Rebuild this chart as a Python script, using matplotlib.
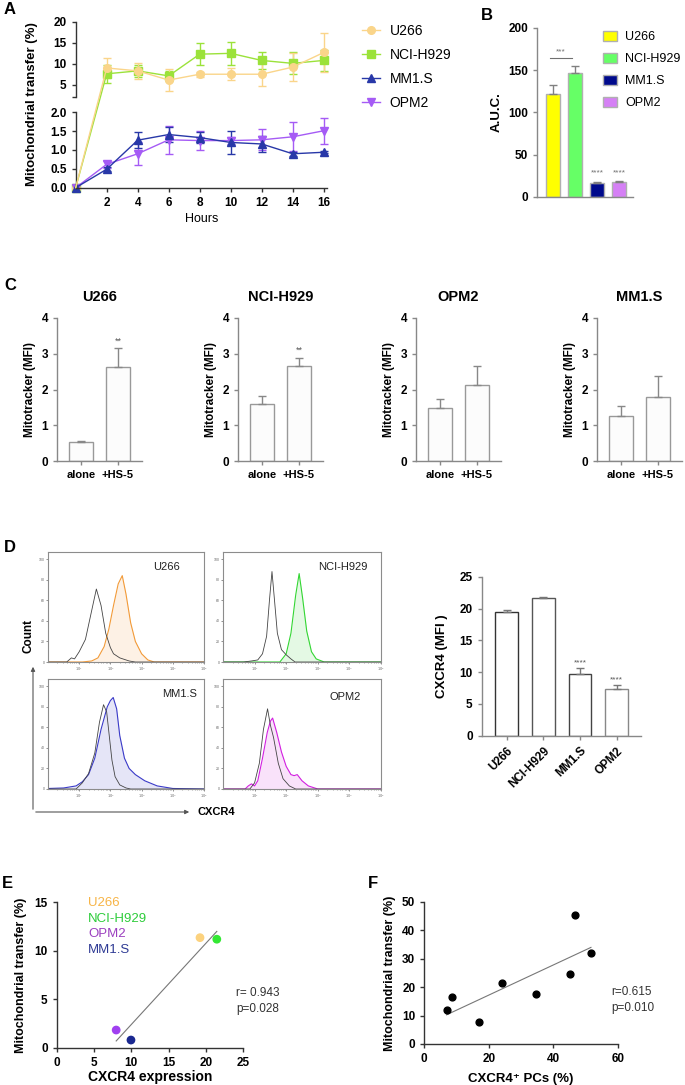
import numpy as np
import matplotlib.pyplot as plt
from matplotlib.patches import ConnectionPatch, FancyArrowPatch, Patch
from matplotlib.lines import Line2D
from matplotlib.ticker import LogLocator, NullFormatter

W, H = 685, 1085
plt.rcParams['font.family'] = ['Liberation Sans', 'DejaVu Sans']

# ---- panel A: mitochondrial transfer over time
hours = [0, 2, 4, 6, 8, 10, 12, 14, 16]
u266_mean = [0, 9.0, 8.3, 6.1, 7.5, 7.5, 7.5, 9.2, 12.7]
u266_err = [0, 2.5, 1.9, 2.7, 0.6, 1.4, 2.7, 3.3, 4.6]
h929_mean = [0, 7.6, 8.3, 7.1, 12.3, 12.5, 10.8, 10.1, 10.8]
h929_err = [0, 2.1, 1.5, 1.2, 2.6, 2.8, 2.1, 2.6, 2.5]
mm1s_mean = [0, 0.49, 1.26, 1.41, 1.33, 1.2, 1.16, 0.9, 0.94]
mm1s_err = [0, 0.05, 0.22, 0.2, 0.15, 0.3, 0.2, 0.05, 0.03]
opm2_mean = [0, 0.62, 0.9, 1.27, 1.25, 1.25, 1.27, 1.35, 1.51]
opm2_err = [0, 0.1, 0.3, 0.37, 0.25, 0.1, 0.28, 0.38, 0.35]

# ---- panel B: AUC
lines = ['U266', 'NCI-H929', 'MM1.S', 'OPM2']
auc = [122, 147, 16, 17]
auc_err = [11, 8.5, 1, 1.5]

# ---- panel C: mitotracker
c_titles = ['U266', 'NCI-H929', 'OPM2', 'MM1.S']
c_groups = ['alone', '+HS-5']
c_vals = [[0.52, 2.62], [1.6, 2.65], [1.47, 2.12], [1.25, 1.8]]
c_errs = [[0.05, 0.53], [0.22, 0.23], [0.26, 0.53], [0.28, 0.58]]
c_stars = ['**', '**', '', '']

# ---- panel D: flow histograms (log10 decade, % of max)
hist_names = ['U266', 'NCI-H929', 'MM1.S', 'OPM2']
ctrl_dec = [[0, 0.6, 0.75, 0.85, 1.0, 1.2, 1.4, 1.55, 1.7, 1.85, 2.0, 2.1, 2.3, 2.6, 2.8, 5],
            [0, 0.65, 0.9, 1.1, 1.25, 1.38, 1.47, 1.55, 1.63, 1.72, 1.85, 2.0, 2.15, 2.28, 5],
            [0, 0.9, 1.1, 1.3, 1.5, 1.65, 1.78, 1.88, 1.97, 2.05, 2.15, 2.3, 2.5, 2.65, 5],
            [0, 0.85, 1.0, 1.15, 1.28, 1.41, 1.5, 1.6, 1.75, 1.9, 2.1, 2.3, 5]]
ctrl_cnt = [[0, 0, 4, 3, 10, 22, 50, 71, 55, 28, 14, 8, 4, 1, 0, 0],
            [0, 0, 1, 2, 8, 25, 60, 88, 60, 28, 12, 7, 3, 0, 0],
            [0, 0, 6, 15, 35, 65, 82, 75, 50, 28, 12, 4, 1, 0, 0],
            [0, 0, 6, 25, 58, 78, 62, 50, 25, 10, 3, 0, 0]]
stain_dec = [[0, 1.1, 1.4, 1.6, 1.8, 1.95, 2.1, 2.25, 2.38, 2.5, 2.65, 2.8, 3.0, 3.2, 3.4, 5],
             [0, 1.8, 2.0, 2.15, 2.3, 2.41, 2.52, 2.65, 2.8, 2.95, 3.2, 5],
             [0, 0.5, 0.9, 1.1, 1.3, 1.5, 1.7, 1.9, 2.0, 2.09, 2.2, 2.3, 2.45, 2.6, 2.8, 3.1, 3.5, 4.0, 5],
             [0, 0.7, 0.8, 0.9, 1.0, 1.1, 1.25, 1.4, 1.5, 1.57, 1.7, 1.85, 2.0, 2.15, 2.25, 2.35, 2.5, 2.7, 3.0, 5]]
stain_cnt = [[0, 0, 1, 4, 15, 32, 55, 76, 84, 66, 38, 20, 8, 2, 0, 0],
             [0, 0, 8, 28, 65, 86, 62, 30, 10, 3, 0, 0],
             [0.5, 1, 3, 7, 14, 30, 58, 80, 86, 89, 78, 52, 30, 20, 14, 8, 3, 0.5, 0],
             [0, 0, 3, 5, 3, 8, 30, 55, 66, 69, 55, 36, 22, 14, 13, 14, 8, 3, 0, 0]]
hist_col = ['#F29A38', '#33D633', '#3A3AC8', '#D21FE0']

cxcr4_mfi = [19.5, 21.7, 9.65, 7.3]
cxcr4_err = [0.3, 0.15, 0.95, 0.7]

# ---- panel E / F: correlations
e_names = ['U266', 'NCI-H929', 'OPM2', 'MM1.S']
e_x = [19.2, 21.45, 7.97, 9.95]
e_y = [11.36, 11.2, 1.85, 0.82]
e_col = ['#FCD27E', '#33E833', '#A040F0', '#1A2890']
e_txtcol = ['#F7B446', '#2DCC3A', '#9B3FBF', '#2E3A94']
f_x = [6.9, 8.5, 17.0, 24.0, 34.7, 45.2, 46.8, 51.7]
f_y = [11.9, 16.4, 7.9, 21.5, 17.5, 24.6, 45.3, 31.9]

fig = plt.figure(figsize=(W / 100, H / 100), dpi=100)


def box(x0, y0, x1, y1):
    return [x0 / W, 1 - y1 / H, (x1 - x0) / W, (y1 - y0) / H]


def ftext(x, y, s, **kw):
    return fig.text(x / W, 1 - y / H, s, **kw)


def prism(ax, col='#333333'):
    for s in ['top', 'right']:
        ax.spines[s].set_visible(False)
    for s in ['left', 'bottom']:
        ax.spines[s].set_color(col)
        ax.spines[s].set_linewidth(1.0)
    ax.tick_params(colors=col, labelcolor='black', labelsize=8.5, width=1, length=3)
    for lab in ax.get_xticklabels() + ax.get_yticklabels():
        lab.set_fontweight('bold')


# ================= A
ax_hi = fig.add_axes(box(75.7, 22, 326.8, 97.2))
ax_lo = fig.add_axes(box(75.7, 112.3, 326.8, 187.7))
ax_hi.set_xlim(0, 16.2)
ax_lo.set_xlim(0, 16.2)
ax_hi.set_ylim(2, 20)
ax_lo.set_ylim(0, 2)

kw = dict(lw=1.0, markersize=5.5, capsize=3, elinewidth=1, capthick=1, clip_on=False)
ax_hi.errorbar(hours[1:], h929_mean[1:], yerr=h929_err[1:], color='#9BE23A', marker='s', **kw)
ax_hi.errorbar(hours[1:], u266_mean[1:], yerr=u266_err[1:], color='#FAD58A', marker='o', **kw)
ax_lo.errorbar(hours, opm2_mean, yerr=opm2_err, color='#A55BF5', marker='v', **kw)
ax_lo.errorbar(hours, mm1s_mean, yerr=mm1s_err, color='#2838A8', marker='^', **kw)
ax_lo.plot(hours[0], h929_mean[0], marker='s', color='#9BE23A', ms=5.5, clip_on=False)
ax_lo.plot(hours[0], u266_mean[0], marker='o', color='#FAD58A', ms=5.5, clip_on=False)
for mean, col in [(h929_mean, '#9BE23A'), (u266_mean, '#FAD58A')]:
    con = ConnectionPatch(xyA=(hours[0], mean[0]), coordsA='data', axesA=ax_lo,
                          xyB=(hours[1], mean[1]), coordsB='data', axesB=ax_hi,
                          color=col, lw=1.0)
    fig.add_artist(con)

ax_hi.set_yticks([2, 5, 10, 15, 20])
ax_hi.set_yticklabels(['', '5', '10', '15', '20'])
ax_hi.set_xticks([])
ax_lo.set_yticks([0, 0.5, 1.0, 1.5, 2.0])
ax_lo.set_yticklabels(['0.0', '0.5', '1.0', '1.5', '2.0'])
ax_lo.set_xticks(hours[1:])
prism(ax_hi)
prism(ax_lo)
ax_hi.spines['bottom'].set_visible(False)
ax_lo.set_xlabel('Hours', fontsize=9, labelpad=3)
ftext(32, 104, 'Mitochondrial transfer (%)', rotation=90, ha='center', va='center',
      fontsize=9.5, fontweight='bold')

a_handles = [Line2D([], [], color='#FAD58A', marker='o', ms=5.5, lw=1),
             Line2D([], [], color='#9BE23A', marker='s', ms=5.5, lw=1),
             Line2D([], [], color='#2838A8', marker='^', ms=5.5, lw=1),
             Line2D([], [], color='#A55BF5', marker='v', ms=5.5, lw=1)]
fig.legend(a_handles, lines, loc='upper left', bbox_to_anchor=(362 / W, 1 - 24 / H),
           frameon=False, fontsize=10, handlelength=1.3, labelspacing=0.72,
           handletextpad=0.7, borderpad=0, borderaxespad=0)

# ================= B
axb = fig.add_axes(box(537, 28, 633, 196.7))
bcols = ['#FFFF00', '#66FF66', '#000A8C', '#D580F5']
xb = np.arange(len(auc))
axb.bar(xb, auc, width=0.68, color=bcols, edgecolor='#B0B0B0', linewidth=1.0)
axb.errorbar(xb, auc, yerr=[[0] * 4, auc_err], fmt='none', ecolor='#808080', capsize=3, elinewidth=1)
axb.set_xlim(-0.727, 3.636)
axb.set_ylim(0, 200)
axb.set_yticks([0, 50, 100, 150, 200])
axb.set_xticks([])
prism(axb, '#888888')
axb.plot([-0.15, 0.85], [164.5, 164.5], color='#707070', lw=0.8)
axb.text(0.35, 167, '***', ha='center', va='bottom', fontsize=6, color='#707070')
for i in (2, 3):
    axb.text(i, 24, '****', ha='center', va='bottom', fontsize=6, color='#707070')
axb.set_ylabel('A.U.C.', fontsize=9.5, fontweight='bold', labelpad=4)
b_handles = [Patch(facecolor=c, edgecolor='#B0B0B0') for c in bcols]
fig.legend(b_handles, lines, loc='upper left', bbox_to_anchor=(603 / W, 1 - 31 / H),
           frameon=False, fontsize=9, handlelength=1.15, handleheight=0.9,
           labelspacing=0.75, handletextpad=0.6, borderpad=0, borderaxespad=0)

# ================= C
c_lefts = [57, 238, 416, 597]
for i, left in enumerate(c_lefts):
    ax = fig.add_axes(box(left, 318, left + 85, 461))
    xc = np.arange(2)
    ax.bar(xc, c_vals[i], width=0.65, color='#FCFCFC', edgecolor='#999999', linewidth=1.0)
    ax.errorbar(xc, c_vals[i], yerr=[[0, 0], c_errs[i]], fmt='none', ecolor='#888888',
                capsize=3, elinewidth=1)
    ax.set_xlim(-0.65, 1.65)
    ax.set_ylim(0, 4)
    ax.set_yticks([0, 1, 2, 3, 4])
    ax.set_xticks(xc)
    ax.set_xticklabels(c_groups)
    prism(ax, '#888888')
    ax.tick_params(axis='x', labelsize=8)
    ax.set_ylabel('Mitotracker (MFI)', fontsize=8.5, fontweight='bold', labelpad=4)
    ax.set_title(c_titles[i], fontsize=10.5, fontweight='bold', pad=12)
    if c_stars[i]:
        top = c_vals[i][1] + c_errs[i][1]
        ax.text(1, top + 0.08, c_stars[i], ha='center', va='bottom', fontsize=6.5, color='#555555')

# ================= D histograms
hist_boxes = [(48, 552, 204, 662), (223, 552, 381, 662), (48, 679, 204, 789), (223, 679, 381, 789)]
hist_lbl = [(167, 567), (343, 567), (180, 694), (345, 697)]
for i, (x0, y0, x1, y1) in enumerate(hist_boxes):
    ax = fig.add_axes(box(x0, y0, x1, y1))
    sx = 10 ** np.array(stain_dec[i])
    cx = 10 ** np.array(ctrl_dec[i])
    ax.fill_between(sx, stain_cnt[i], color=hist_col[i], alpha=0.13, lw=0)
    ax.plot(sx, stain_cnt[i], color=hist_col[i], lw=0.8)
    ax.plot(cx, ctrl_cnt[i], color='#444444', lw=0.6)
    ax.set_xscale('log')
    ax.set_xlim(1, 1e5)
    ax.set_ylim(0, 107)
    ax.set_yticks([0, 20, 40, 60, 80, 100])
    ax.set_xticks([10, 100, 1e3, 1e4, 1e5])
    ax.set_xticklabels(['$10^1$', '$10^2$', '$10^3$', '$10^4$', '$10^5$'])
    ax.xaxis.set_minor_locator(LogLocator(base=10, subs=np.arange(2, 10)))
    ax.xaxis.set_minor_formatter(NullFormatter())
    ax.tick_params(labelsize=2.5, length=1.5, width=0.5, pad=1, colors='#666666')
    ax.tick_params(which='minor', length=1, width=0.4, colors='#666666')
    for s in ax.spines.values():
        s.set_color('#8C8C8C')
        s.set_linewidth(0.8)
    ftext(*hist_lbl[i], hist_names[i], ha='center', va='center', fontsize=8, color='#222222')

ftext(29, 636, 'Count', rotation=90, ha='center', va='center', fontsize=8.5, fontweight='bold')
fig.add_artist(FancyArrowPatch((33 / W, 1 - 812 / H), (33 / W, 1 - 664 / H),
                               transform=fig.transFigure, arrowstyle='-|>', mutation_scale=6,
                               color='#555555', lw=0.8))
fig.add_artist(FancyArrowPatch((33 / W, 1 - 812 / H), (192 / W, 1 - 812 / H),
                               transform=fig.transFigure, arrowstyle='-|>', mutation_scale=6,
                               color='#555555', lw=0.8))
ftext(198, 812, 'CXCR4', ha='left', va='center', fontsize=8, fontweight='bold')

# ================= D bar
axd = fig.add_axes(box(481.7, 576.7, 640.7, 735.7))
xd = np.arange(4)
axd.bar(xd, cxcr4_mfi, width=0.62, color='white',
        edgecolor=['#333333', '#555555', '#444444', '#888888'], linewidth=1.0)
axd.errorbar(xd, cxcr4_mfi, yerr=[[0] * 4, cxcr4_err], fmt='none', ecolor='#777777',
             capsize=3, elinewidth=1)
axd.set_xlim(-0.68, 3.65)
axd.set_ylim(0, 25)
axd.set_yticks([0, 5, 10, 15, 20, 25])
axd.set_xticks(xd)
axd.set_xticklabels(lines, rotation=45, ha='right', rotation_mode='anchor')
prism(axd, '#888888')
axd.tick_params(axis='x', labelsize=8.5)
for i in (2, 3):
    axd.text(i, cxcr4_mfi[i] + cxcr4_err[i] + 0.3, '****', ha='center', va='bottom',
             fontsize=6, color='#555555')
axd.set_ylabel('CXCR4 (MFI )', fontsize=9.5, fontweight='bold', labelpad=8)

# ================= E
axe = fig.add_axes(box(56.7, 902.3, 243.3, 1048))
axe.scatter(e_x, e_y, c=e_col, s=28, zorder=3, clip_on=False)
pe = np.polyfit(e_x, e_y, 1)
xe = np.array([min(e_x), max(e_x)])
axe.plot(xe, np.polyval(pe, xe), color='#777777', lw=0.8)
axe.set_xlim(0, 25)
axe.set_ylim(0, 15)
axe.set_xticks([0, 5, 10, 15, 20, 25])
axe.set_yticks([0, 5, 10, 15])
prism(axe)
axe.set_xlabel('CXCR4 expression', fontsize=10, fontweight='bold', labelpad=1)
axe.set_ylabel('Mitochondrial transfer (%)', fontsize=9, fontweight='bold', labelpad=5)
for i, nm in enumerate(e_names):
    ftext(88, 903 + 15.7 * i, nm, ha='left', va='center', fontsize=9.5, color=e_txtcol[i])
ftext(236, 1001, 'r= 0.943\np=0.028', ha='left', va='center', fontsize=8.5,
      color='#333333', linespacing=1.4)

# ================= F
axf = fig.add_axes(box(424.3, 901.7, 617.7, 1044))
axf.scatter(f_x, f_y, color='black', s=24, zorder=3)
pf = np.polyfit(f_x, f_y, 1)
xf = np.array([min(f_x), max(f_x)])
axf.plot(xf, np.polyval(pf, xf), color='#777777', lw=0.8)
axf.set_xlim(0, 60)
axf.set_ylim(0, 50)
axf.set_xticks([0, 20, 40, 60])
axf.set_yticks([0, 10, 20, 30, 40, 50])
prism(axf)
axf.set_xlabel('CXCR4\u207a PCs (%)', fontsize=9.5, fontweight='bold', labelpad=6)
axf.set_ylabel('Mitochondrial transfer (%)', fontsize=9, fontweight='bold', labelpad=4)
ftext(611, 1000, 'r=0.615\np=0.010', ha='left', va='center', fontsize=8.5,
      color='#333333', linespacing=1.4)

# panel letters
for letter, x, y in [('A', 4, 10), ('B', 481, 15), ('C', 4, 285), ('D', 4, 547),
                     ('E', 2, 883), ('F', 368, 883)]:
    ftext(x, y, letter, ha='left', va='center', fontsize=12, fontweight='bold')

fig.savefig('out.png', dpi=100)
